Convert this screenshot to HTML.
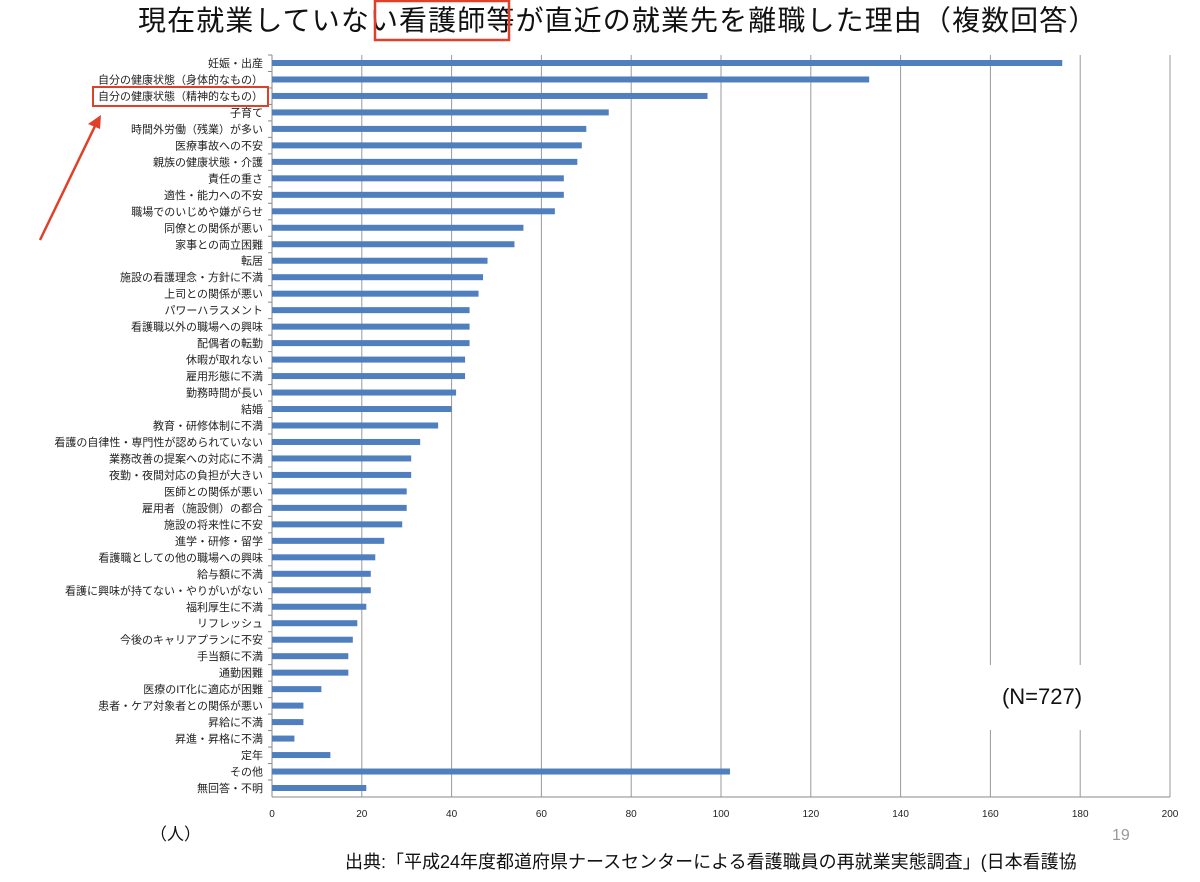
<!DOCTYPE html>
<html><head><meta charset="utf-8"><style>
body{margin:0;background:#fff;width:1200px;height:877px;overflow:hidden;font-family:"Liberation Sans","Noto Sans CJK JP",sans-serif}
</style></head><body>
<svg width="1200" height="877" xmlns="http://www.w3.org/2000/svg" font-family="Liberation Sans, Noto Sans CJK JP, sans-serif">
<text x="138" y="30" font-size="28" letter-spacing="1.1" fill="#111">現在就業していない看護師等が直近の就業先を離職した理由（複数回答）</text>
<rect x="375" y="1" width="134" height="39" fill="none" stroke="#e0402a" stroke-width="2.5"/>
<g id="grid"></g><g id="bars"></g><g id="labels"></g><g id="xticks"></g>
<rect x="970" y="665" width="130" height="65" fill="#fff"/>
<text x="1042" y="704" font-size="22" text-anchor="middle" fill="#111">(N=727)</text>
<rect x="93" y="87" width="175" height="19" fill="none" stroke="#e0402a" stroke-width="2"/>
<line x1="40" y1="240" x2="96" y2="124" stroke="#e0402a" stroke-width="2.5"/>
<polygon points="101,115 88,124 100,129" fill="#e0402a"/>
<text x="150" y="840" font-size="17" fill="#111">（人）</text>
<text x="1112" y="840" font-size="16" fill="#999">19</text>
<text x="345" y="868" font-size="18" fill="#111">出典:「平成24年度都道府県ナースセンターによる看護職員の再就業実態調査」(日本看護協</text>
</svg>
<script>
const categories=["妊娠・出産","自分の健康状態（身体的なもの）","自分の健康状態（精神的なもの）","子育て","時間外労働（残業）が多い","医療事故への不安","親族の健康状態・介護","責任の重さ","適性・能力への不安","職場でのいじめや嫌がらせ","同僚との関係が悪い","家事との両立困難","転居","施設の看護理念・方針に不満","上司との関係が悪い","パワーハラスメント","看護職以外の職場への興味","配偶者の転勤","休暇が取れない","雇用形態に不満","勤務時間が長い","結婚","教育・研修体制に不満","看護の自律性・専門性が認められていない","業務改善の提案への対応に不満","夜勤・夜間対応の負担が大きい","医師との関係が悪い","雇用者（施設側）の都合","施設の将来性に不安","進学・研修・留学","看護職としての他の職場への興味","給与額に不満","看護に興味が持てない・やりがいがない","福利厚生に不満","リフレッシュ","今後のキャリアプランに不安","手当額に不満","通勤困難","医療のIT化に適応が困難","患者・ケア対象者との関係が悪い","昇給に不満","昇進・昇格に不満","定年","その他","無回答・不明"];
const values=[176,133,97,75,70,69,68,65,65,63,56,54,48,47,46,44,44,44,43,43,41,40,37,33,31,31,30,30,29,25,23,22,22,21,19,18,17,17,11,7,7,5,13,102,21];
const xTicks=[0,20,40,60,80,100,120,140,160,180,200];
const NS="http://www.w3.org/2000/svg";
const x0=272,x1=1170,plotTop=55,plotBottom=797,yFirst=63,yLast=788;
const xs=v=>x0+(v/200)*(x1-x0);
const ys=i=>yFirst+i*(yLast-yFirst)/(categories.length-1);
function mk(t,a,p){const e=document.createElementNS(NS,t);for(const k in a)e.setAttribute(k,a[k]);p.appendChild(e);return e;}
const g=document.getElementById('grid'),b=document.getElementById('bars'),l=document.getElementById('labels'),xt=document.getElementById('xticks');
xTicks.forEach(t=>{
 if(t>0){const ln=mk('line',{x1:xs(t),x2:xs(t),y1:plotTop,y2:plotBottom,stroke:'#999','stroke-width':1},g);
 
 }
 const tx=mk('text',{x:xs(t),y:817,'font-size':10,'text-anchor':'middle',fill:'#222'},xt);tx.textContent=t;
 
 
});
const ax=mk('line',{x1:x0,x2:x0,y1:plotTop,y2:plotBottom,stroke:'#888','stroke-width':1},g);


const bx=mk('line',{x1:x0,x2:x1,y1:plotBottom,y2:plotBottom,stroke:'#888','stroke-width':1},g);


categories.forEach((c,i)=>{
 const y=ys(i);
 const tk=mk('line',{x1:x0-4,x2:x0,y1:y-8,y2:y-8,stroke:'#888'},g);
 
 
 const r=mk('rect',{x:x0,y:y-3,width:xs(values[i])-x0,height:6,fill:'#4f7fbf'},b);
 
 
 const t=mk('text',{x:263,y:y+4,'font-size':11,'text-anchor':'end',fill:'#222'},l);t.textContent=c;
 
 
});
</script>
</body></html>
